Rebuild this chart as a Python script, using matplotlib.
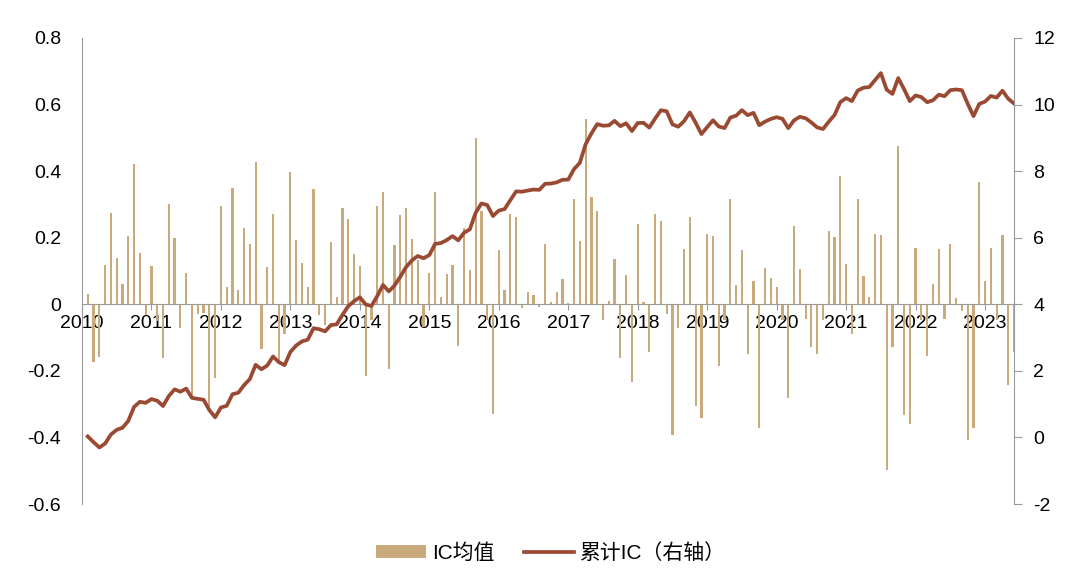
import numpy as np
import matplotlib.pyplot as plt

plt.rcParams['font.family'] = ['Liberation Sans', 'Noto Sans CJK SC', 'DejaVu Sans']

# monthly IC values, Feb 2010 .. Jun 2023
ic = [0.03, -0.173, -0.158, 0.117, 0.273, 0.14, 0.062, 0.205, 0.42, 0.155,
      -0.033, 0.115, -0.05, -0.16, 0.30, 0.20, -0.07, 0.094, -0.28, -0.028,
      -0.026, -0.31, -0.22, 0.295, 0.052, 0.348, 0.044, 0.229, 0.182, 0.428,
      -0.133, 0.112, 0.271, -0.17, -0.09, 0.396, 0.194, 0.124, 0.051, 0.346,
      -0.033, -0.063, 0.188, 0.023, 0.288, 0.257, 0.152, 0.116, -0.214, -0.048,
      0.296, 0.336, -0.193, 0.177, 0.267, 0.29, 0.197, 0.132, -0.068, 0.095,
      0.338, 0.022, 0.09, 0.119, -0.126, 0.228, 0.102, 0.498, 0.28, -0.048,
      -0.33, 0.164, 0.044, 0.27, 0.262, -0.01, 0.036, 0.029, -0.008, 0.182,
      0.006, 0.037, 0.077, 0.005, 0.316, 0.19, 0.557, 0.323, 0.281, -0.048,
      0.01, 0.136, -0.16, 0.087, -0.233, 0.24, 0.007, -0.143, 0.27, 0.25,
      -0.03, -0.394, -0.07, 0.166, 0.262, -0.307, -0.342, 0.21, 0.204, -0.186,
      -0.048, 0.315, 0.059, 0.164, -0.15, 0.069, -0.371, 0.109, 0.08, 0.052,
      -0.048, -0.282, 0.235, 0.106, -0.043, -0.128, -0.148, -0.048, 0.22, 0.203,
      0.386, 0.12, -0.09, 0.317, 0.085, 0.021, 0.21, 0.208, -0.497, -0.128,
      0.476, -0.332, -0.361, 0.17, -0.048, -0.155, 0.06, 0.167, -0.045, 0.181,
      0.02, -0.021, -0.407, -0.372, 0.367, 0.07, 0.168, -0.048, 0.207, -0.242,
      -0.143]
years = [str(y) for y in range(2010, 2024)]
left_ticks = [-0.6, -0.4, -0.2, 0, 0.2, 0.4, 0.6, 0.8]
right_ticks = [-2, 0, 2, 4, 6, 8, 10, 12]

bar_color = '#C9AA7C'
line_color = '#9A4A32'
axis_color = '#9A9A9A'

months = np.arange(1, len(ic) + 1)   # months since Jan 2010
cum_ic = np.cumsum(ic)

fig = plt.figure(figsize=(10.8, 5.78), dpi=100)
ax = fig.add_axes([0.0759, 0.128, 0.8630, 0.8064])
ax2 = ax.twinx()

# spine position first, it resets the tick settings
for a in (ax, ax2):
    a.spines['top'].set_visible(False)
    a.spines['bottom'].set_visible(False)
    a.set_facecolor('none')
ax.spines['bottom'].set_visible(True)
ax.spines['bottom'].set_position(('data', 0))
ax.spines['bottom'].set_color(axis_color)
ax.spines['left'].set_color(axis_color)
ax.spines['right'].set_visible(False)
ax2.spines['left'].set_visible(False)
ax2.spines['right'].set_color(axis_color)

ax.bar(months, ic, width=0.38, color=bar_color, label='IC均值', zorder=2)
ax2.plot(months, cum_ic, color=line_color, lw=2.7, label='累计IC（右轴）',
         solid_joinstyle='round', zorder=3)

ax.set_xlim(0, len(ic))
ax.set_ylim(-0.6, 0.8)
ax2.set_ylim(-2, 12)

ax.set_yticks(left_ticks)
ax.set_yticklabels(['0' if v == 0 else f'{v:.1f}' for v in left_ticks])
ax2.set_yticks(right_ticks)
ax2.set_yticklabels([str(v) for v in right_ticks])

ax.set_xticks(np.arange(0, 12 * len(years), 12))
ax.set_xticklabels(years)

ax.tick_params(axis='y', length=0, pad=15, labelsize=14)
ax.tick_params(axis='x', length=4, color=axis_color, pad=4, labelsize=14)
ax2.tick_params(axis='y', length=6, color=axis_color, pad=8, labelsize=14)

# keep the line above the bars
ax.set_zorder(1)
ax2.set_zorder(2)

h1, l1 = ax.get_legend_handles_labels()
h2, l2 = ax2.get_legend_handles_labels()
fig.legend(h1 + h2, l1 + l2, loc='center', bbox_to_anchor=(0.51, 0.043), ncol=2,
           frameon=False, handlelength=2.4, handleheight=0.6,
           columnspacing=1.4, handletextpad=0.3,
           prop={'family': ['Liberation Sans', 'Noto Sans CJK SC'], 'size': 15})

fig.savefig('out.png', dpi=100)
